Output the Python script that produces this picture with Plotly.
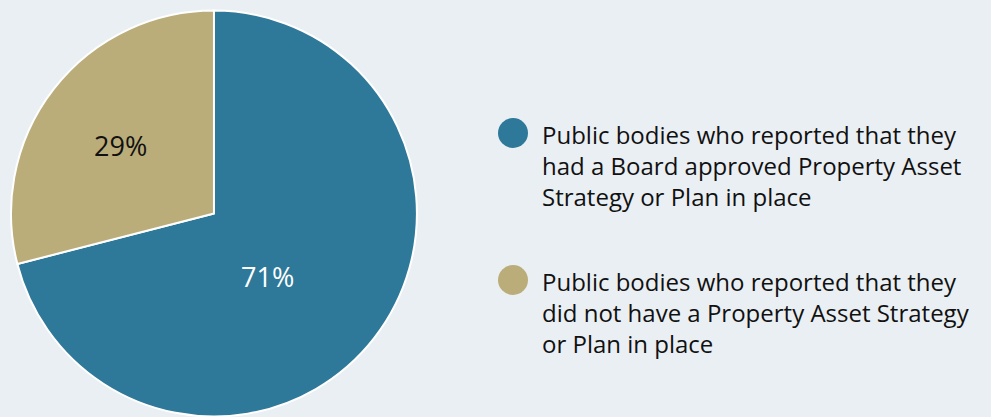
import plotly.graph_objects as go

# Survey outcome shares
labels = [
    "Public bodies who reported that they<br>had a Board approved Property Asset<br>Strategy or Plan in place",
    "Public bodies who reported that they<br>did not have a Property Asset Strategy<br>or Plan in place",
]
values = [71, 29]
colors = ["#2E7899", "#BBAD79"]
text_colors = ["#FFFFFF", "#111111"]

BG = "#EAEFF3"
FONT = "Futura, 'Century Gothic', 'Open Sans', 'DejaVu Sans', sans-serif"
W, H = 991, 417

fig = go.Figure()
fig.add_trace(go.Pie(
    labels=labels,
    values=values,
    sort=False,
    direction="clockwise",
    rotation=0,
    marker=dict(colors=colors, line=dict(color="#FFFFFF", width=2)),
    textinfo="none",
    showlegend=False,
    hoverinfo="skip",
    domain=dict(x=[0.0111, 0.4207], y=[0.0, 0.976]),
))

# Percentage labels inside each slice
label_pos = [(267, 276), (120, 145)]  # pixel centres from top-left
total = sum(values)
for v, tc, (px, py) in zip(values, text_colors, label_pos):
    fig.add_annotation(
        x=px / W, y=1 - py / H, xref="paper", yref="paper",
        xanchor="center", yanchor="middle",
        text=f"{round(100 * v / total)}%", showarrow=False,
        font=dict(size=27, color=tc, family=FONT),
    )

# Legend drawn as circle swatches with wrapped text
legend_y = [133, 280]  # pixel rows from top for each entry
for lab, col, yy in zip(labels, colors, legend_y):
    fig.add_shape(
        type="circle", xref="paper", yref="paper",
        x0=498 / W, x1=528 / W,
        y0=1 - (yy + 15) / H, y1=1 - (yy - 15) / H,
        fillcolor=col, line=dict(width=0),
    )
    fig.add_annotation(
        x=540 / W, y=1 - (yy - 17) / H, xref="paper", yref="paper",
        xanchor="left", yanchor="top", align="left",
        text=lab, showarrow=False,
        font=dict(size=24, color="#111111", family=FONT),
    )

fig.update_layout(
    width=W, height=H,
    margin=dict(l=0, r=0, t=0, b=0),
    paper_bgcolor=BG, plot_bgcolor=BG,
)

fig.write_html("out.html")
